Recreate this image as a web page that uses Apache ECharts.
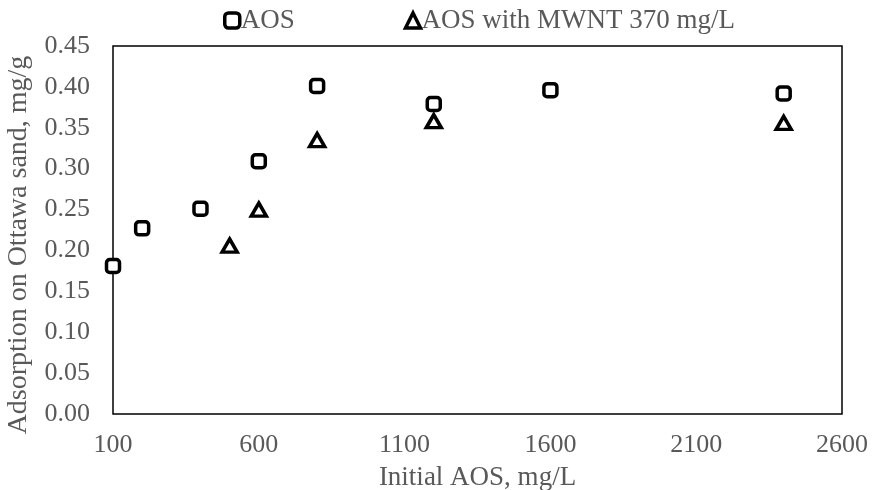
<!DOCTYPE html>
<html>
<head>
<meta charset="utf-8">
<script src="https://cdn.jsdelivr.net/npm/echarts@6/dist/echarts.min.js"></script>
<style>html,body{margin:0;padding:0;background:#fff;}#main{width:872px;height:490px;}</style>
</head>
<body>
<div id="main"></div>
<script>
const aosX = [100, 200, 400, 600, 800, 1200, 1600, 2400];
const aosY = [0.181, 0.227, 0.251, 0.309, 0.401, 0.379, 0.396, 0.392];
const mwntX = [500, 600, 800, 1200, 2400];
const mwntY = [0.206, 0.250, 0.335, 0.358, 0.356];
const xTicks = [100, 600, 1100, 1600, 2100, 2600];
const seriesNames = ['AOS', 'AOS with MWNT 370 mg/L'];

const font = 'Liberation Serif, Times New Roman, serif';
const grey = '#595959';
const chart = echarts.init(document.getElementById('main'));
chart.setOption({
  animation: false,
  backgroundColor: '#fff',
  grid: { left: 113, right: 30, top: 46, bottom: 76, show: true, borderColor: '#000', borderWidth: 1.5,
          containLabel: false, outerBoundsMode: 'none' },
  legend: {
    top: 2, left: 218, itemGap: 109, itemWidth: 15, itemHeight: 15,
    textStyle: { fontFamily: font, fontSize: 27, color: grey, padding: [0,0,0,-4] },
    data: [
      { name: seriesNames[0], icon: 'roundRect', itemStyle: { color: '#fff', borderColor: '#000', borderWidth: 3.5 } },
      { name: seriesNames[1], icon: 'triangle', itemStyle: { color: '#fff', borderColor: '#000', borderWidth: 3.5 } }
    ]
  },
  xAxis: {
    type: 'value', min: 100, max: 2600,
    name: 'Initial AOS, mg/L', nameLocation: 'middle', nameGap: 50,
    nameTextStyle: { fontFamily: font, fontSize: 27, color: grey },
    axisLine: { show: false }, axisTick: { show: false }, splitLine: { show: false },
    axisLabel: { customValues: xTicks, fontFamily: font, fontSize: 26, color: grey, margin: 18, formatter: v => String(v) }
  },
  yAxis: {
    type: 'value', min: 0, max: 0.45, interval: 0.05,
    name: 'Adsorption on Ottawa sand, mg/g', nameLocation: 'middle', nameGap: 80,
    nameTextStyle: { fontFamily: font, fontSize: 28, color: grey, padding: [0, 30, 0, 0] },
    axisLine: { show: false }, axisTick: { show: false }, splitLine: { show: false },
    axisLabel: { fontFamily: font, fontSize: 26, color: grey, margin: 23, formatter: v => v.toFixed(2) }
  },
  series: [
    {
      name: seriesNames[0], type: 'scatter', symbol: 'roundRect', symbolSize: 13,
      itemStyle: { color: '#fff', borderColor: '#000', borderWidth: 3.5, opacity: 1 },
      data: aosX.map((x, i) => [x, aosY[i]])
    },
    {
      name: seriesNames[1], type: 'scatter', symbol: 'triangle', symbolSize: [15, 13],
      itemStyle: { color: '#fff', borderColor: '#000', borderWidth: 3.5, opacity: 1 },
      data: mwntX.map((x, i) => [x, mwntY[i]])
    }
  ]
});
</script>
</body>
</html>
